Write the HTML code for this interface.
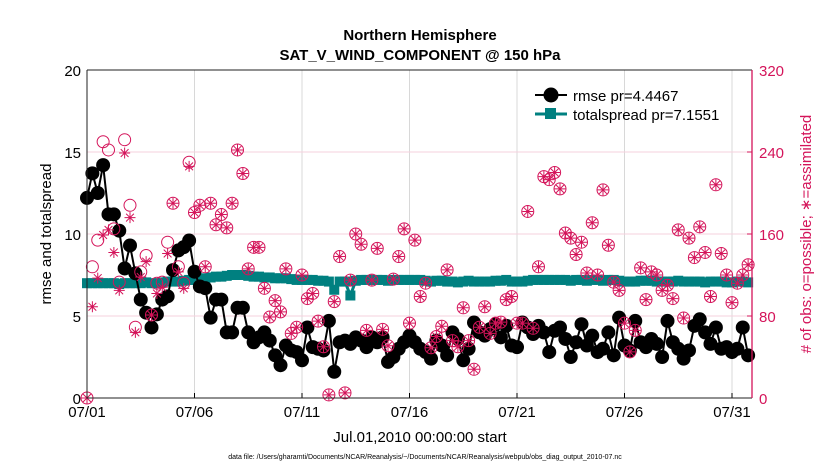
<!DOCTYPE html>
<html><head><meta charset="utf-8">
<style>
html,body{margin:0;padding:0;background:#fff;}
svg{display:block;font-family:"Liberation Sans",Arial,sans-serif;}
</style></head>
<body>
<svg id="chart" width="830" height="470" viewBox="0 0 830 470" xmlns="http://www.w3.org/2000/svg">
<rect width="830" height="470" fill="#fff"/>
<g id="grid"></g>
<g id="series"></g>
<g id="axes"></g>
<text x="420" y="40" text-anchor="middle" font-size="15" font-weight="bold">Northern Hemisphere</text>
<text x="420" y="60" text-anchor="middle" font-size="15" font-weight="bold">SAT_V_WIND_COMPONENT @ 150 hPa</text>
<text transform="translate(51,234) rotate(-90)" text-anchor="middle" font-size="15">rmse and totalspread</text>
<text transform="translate(811,234) rotate(-90)" text-anchor="middle" font-size="15" fill="#d4145a"># of obs: o=possible; ∗=assimilated</text>
<text x="420" y="442" text-anchor="middle" font-size="15">Jul.01,2010 00:00:00 start</text>
<text x="425" y="459" text-anchor="middle" font-size="7">data file: /Users/gharamti/Documents/NCAR/Reanalysis/~/Documents/NCAR/Reanalysis/webpub/obs_diag_output_2010-07.nc</text>
<g id="legend">
<g>
<line x1="535" y1="95" x2="567" y2="95" stroke="#000" stroke-width="2"/>
<circle cx="551" cy="95" r="7.5" fill="#000"/>
<text x="573" y="101" font-size="15">rmse pr=4.4467</text>
</g>
<g>
<line x1="535" y1="114" x2="567" y2="114" stroke="#008080" stroke-width="3"/>
<rect x="545" y="108" width="11" height="11" fill="#008080"/>
<text x="573" y="120" font-size="15">totalspread pr=7.1551</text>
</g>
</g>
</svg>
<script>
const rmse=[12.2,13.7,12.5,14.2, 11.2,11.2,10.2,7.9, 9.3,7.6,6.0,5.2, 4.3,5.1,6.0,6.2, 7.8,9.0,9.2,9.6,
7.7,6.8,6.7,4.9, 6.0,6.0,4.0,4.0, 5.5,5.5,4.0,3.4, 3.7,4.0,3.5,2.6, 2.0,3.2,2.9,2.8,
2.3,4.3,3.1,3.0, 2.9,4.7,1.6,3.4, 3.5,3.3,3.7,3.5, 3.1,3.7,3.4,3.7, 2.2,2.5,3.0,3.4,
3.8,3.4,3.0,2.8, 2.4,3.5,3.2,2.6, 4.0,3.6,2.3,3.0, 4.6,4.0,3.8,4.2, 4.5,3.7,4.4,3.2,
3.1,4.6,4.3,3.9, 4.4,4.0,2.8,4.1, 4.3,3.6,2.5,3.4, 4.5,3.2,3.8,2.8, 3.0,4.0,2.6,4.9,
3.2,2.9,4.7,3.4, 3.1,3.6,3.3,2.5, 4.7,3.4,3.0,2.4, 2.9,4.4,4.8,4.0, 3.3,4.3,3.0,3.1,
2.8,3.0,4.3,2.6];
const spread=[7.0,7.0,7.0,7.0, 7.0,7.0,6.95,7.0, 7.0,7.0,7.0,7.05, 7.0,7.0,7.05,7.1, 7.1,7.1,7.15,7.2,
7.2,7.25,7.3,7.35, 7.4,7.4,7.45,7.5, 7.5,7.5,7.45,7.4, 7.4,7.35,7.35,7.3, 7.3,7.3,7.25,7.2,
7.2,7.2,7.2,7.15, 7.15,7.1,6.6,7.1, 7.1,6.25,7.15,7.2, 7.2,7.2,7.2,7.2, 7.15,7.2,7.2,7.2,
7.2,7.2,7.2,7.15, 7.1,7.15,7.15,7.1, 7.1,7.05,7.1,7.15, 7.1,7.1,7.1,7.1, 7.15,7.15,7.2,7.1,
7.1,7.1,7.15,7.2, 7.2,7.2,7.2,7.2, 7.2,7.2,7.15,7.2, 7.2,7.15,7.2,7.2, 7.15,7.2,7.2,7.15,
7.1,7.1,7.1,7.15, 7.15,7.15,7.1,7.1, 7.1,7.1,7.15,7.1, 7.1,7.1,7.1,7.05, 7.1,7.1,7.1,7.05,
7.05,7.1,7.1,7.05];
const obsPoss=[0,128,154,250, 242,165,113,252, 188,69,123,139, 81,112,113,152, 190,128,112,230,
181,188,128,190, 169,179,166,190, 242,219,126,147, 147,107,79,95, 84,126,63,69,
120,97,102,75, 50,3,94,138, 5,115,160,150, 66,115,146,67, 51,116,138,165,
73,154,99,112, 49,60,70,125, 56,50,88,56, 28,69,89,63, 73,74,96,99,
73,73,182,68, 128,216,213,220, 204,161,156,140, 152,122,171,120, 203,149,113,105,
73,45,66,127, 96,123,120,105, 110,97,164,78, 156,137,167,142, 99,208,141,120,
93,112,120,130];
const obsUsed=[0,89,117,159, 164,142,105,239, 176,64,118,133, 81,102,108,141, 190,123,107,226,
181,188,128,190, 169,179,166,190, 242,219,126,147, 147,107,79,95, 84,126,63,69,
120,97,102,75, 50,3,94,138, 5,115,160,150, 66,115,146,67, 51,116,138,165,
73,154,99,112, 49,60,70,125, 56,50,88,56, 28,69,89,63, 73,74,96,99,
73,73,182,68, 128,216,213,220, 204,161,156,140, 152,122,171,120, 203,149,113,105,
73,45,66,127, 96,123,120,105, 110,97,164,78, 156,137,167,142, 99,208,141,120,
93,112,120,130];
const xTickLabels=["07/01","07/06","07/11","07/16","07/21","07/26","07/31"];
const xTickDays=[0,5,10,15,20,25,30];
const yTicks=[0,5,10,15,20];
const y2Ticks=[0,80,160,240,320];

const NS="http://www.w3.org/2000/svg";
const L=87,R=752,T=70,B=398;
const DAY=21.5;
function xs(i){return L+(i*0.25)*DAY;}
function xd(d){return L+d*DAY;}
function ys(v){return B-(v/20)*(B-T);}
function y2(v){return B-(v/320)*(B-T);}
function mk(tag,attrs,parent){const e=document.createElementNS(NS,tag);for(const k in attrs)e.setAttribute(k,attrs[k]);parent.appendChild(e);return e;}
const grid=document.getElementById('grid'),series=document.getElementById('series'),axes=document.getElementById('axes');
const PINK="#d4145a";

xTickDays.forEach((d,i)=>{
  const x=xd(d);
  if(d>0){const g=mk('line',{x1:x,y1:T,x2:x,y2:B,stroke:'#d8d8d8','stroke-width':1},grid);
  
  }
  const t=mk('line',{x1:x,y1:B,x2:x,y2:B-5,stroke:'#000'},axes);
  
  
  const tx=mk('text',{x:x,y:B+19,'text-anchor':'middle','font-size':15},axes);
  tx.textContent=xTickLabels[i];
  
  
});
yTicks.forEach(v=>{
  const y=ys(v);
  if(v>0&&v<20){const g=mk('line',{x1:L,y1:y,x2:R,y2:y,stroke:'#f6d0de','stroke-width':1},grid);
  
  }
  const tx=mk('text',{x:L-6,y:y+6,'text-anchor':'end','font-size':15},axes);
  tx.textContent=v;
  
  
});
y2Ticks.forEach(v=>{
  const y=y2(v);
  const t=mk('line',{x1:R,y1:y,x2:R-5,y2:y,stroke:PINK},axes);
  
  
  const tx=mk('text',{x:R+7,y:y+6,'font-size':15,fill:PINK},axes);
  tx.textContent=v;
  
  
});
let a=mk('path',{d:`M${L},${T}H${R}M${L},${T}V${B}H${R}`,fill:'none',stroke:'#222','stroke-width':1},axes);


a=mk('line',{x1:R,y1:T,x2:R,y2:B,stroke:PINK,'stroke-width':1.3},axes);



let p=mk('polyline',{points:spread.map((v,i)=>xs(i)+','+ys(v)).join(' '),fill:'none',stroke:'#008080','stroke-width':3},series);


spread.forEach((v,i)=>{
  const r=mk('rect',{x:xs(i)-5,y:ys(v)-5,width:10,height:10,fill:'#008080'},series);
  
  
});
p=mk('polyline',{points:rmse.map((v,i)=>xs(i)+','+ys(v)).join(' '),fill:'none',stroke:'#000','stroke-width':2},series);


rmse.forEach((v,i)=>{
  const c=mk('circle',{cx:xs(i),cy:ys(v),r:7,fill:'#000'},series);
  
  
});
obsPoss.forEach((v,i)=>{
  const c=mk('circle',{cx:xs(i),cy:y2(v),r:6,fill:'none',stroke:PINK,'stroke-width':1},series);
  
  
});
obsUsed.forEach((v,i)=>{
  const x=xs(i),y=y2(v),s=5.5,d=s*0.707;
  const g=mk('path',{d:`M${x-s},${y}H${x+s}M${x},${y-s}V${y+s}M${x-d},${y-d}L${x+d},${y+d}M${x-d},${y+d}L${x+d},${y-d}`,stroke:PINK,'stroke-width':1,fill:'none'},series);
  
  
});
</script>
</body></html>
